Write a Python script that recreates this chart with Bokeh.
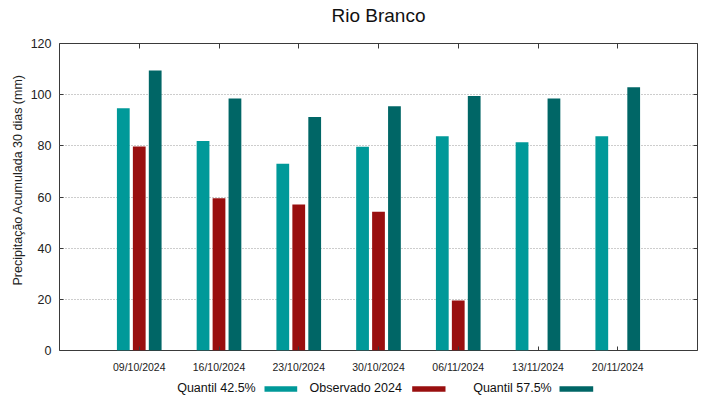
import math
from bokeh.plotting import figure
from bokeh.models import ColumnDataSource, Range1d, LinearAxis, FixedTicker
from bokeh.transform import dodge
from bokeh.layouts import column, row
from bokeh.core.properties import value
from bokeh.embed import file_html
from bokeh.resources import INLINE

NaN = float("nan")

dates = ["09/10/2024", "16/10/2024", "23/10/2024", "30/10/2024",
         "06/11/2024", "13/11/2024", "20/11/2024"]
quantil_425 = [94.7, 81.9, 73.0, 79.6, 83.7, 81.4, 83.7]
observado_2024 = [79.7, 59.5, 57.1, 54.2, 19.5, NaN, NaN]
quantil_575 = [109.4, 98.5, 91.3, 95.5, 99.5, 98.5, 102.9]
y_ticks = [0, 20, 40, 60, 80, 100, 120]

title_text = "Rio Branco"
y_title = "Precipitação Acumulada 30 dias (mm)"
series_names = ["Quantil 42.5%", "Observado 2024", "Quantil 57.5%"]
colors = ["#009999", "#990f0f", "#006666"]

FONT = "Liberation Sans"
W, H = 719, 399
TITLE_H, LEG_H, YLAB_W = 35, 23, 26
MAIN_H = H - TITLE_H - LEG_H


def blank_fig(w, h):
    f = figure(width=w, height=h, x_range=Range1d(0, w), y_range=Range1d(0, h),
               min_border=0, toolbar_location=None, output_backend="svg",
               x_axis_location=None, y_axis_location=None, outline_line_color=None,
               background_fill_color="white", border_fill_color="white")
    f.grid.visible = False
    return f


# ---------- title ----------
tfig = blank_fig(W, TITLE_H)
tfig.text(x=[378], y=[TITLE_H - 15], text=[title_text], text_font=value(FONT),
          text_font_size="19px", text_color="#111111", text_align="center",
          text_baseline="middle")

# ---------- y axis title ----------
yfig = blank_fig(YLAB_W, MAIN_H)
yfig.text(x=[17], y=[MAIN_H - (186.5 - TITLE_H)], text=[y_title], angle=math.pi / 2,
          text_font=value(FONT), text_font_size="12.5px", text_color="#222222",
          text_align="center", text_baseline="middle")

# ---------- main chart ----------
idx = list(range(len(dates)))
src = ColumnDataSource(dict(idx=idx, dates=dates, q425=quantil_425,
                            obs=observado_2024, q575=quantil_575))

p = figure(x_range=Range1d(-1, len(dates)), y_range=Range1d(0, 120),
           width=W - YLAB_W, height=MAIN_H, output_backend="svg", toolbar_location=None,
           min_border_left=33, min_border_right=22, min_border_top=8, min_border_bottom=26,
           background_fill_color="white", border_fill_color="white")

p.outline_line_color = "#3a3a3a"
p.outline_line_width = 1

p.xgrid.grid_line_color = None
p.ygrid.ticker = FixedTicker(ticks=y_ticks)
p.ygrid.grid_line_color = "#9a9a9a"
p.ygrid.grid_line_dash = "1 2"
p.ygrid.grid_line_width = 1

ya = p.yaxis[0]
ya.ticker = FixedTicker(ticks=y_ticks)
ya.axis_line_color = None
ya.major_tick_in = 4
ya.major_tick_out = 0
ya.minor_tick_line_color = None
ya.major_tick_line_color = "#3a3a3a"
ya.major_label_text_font = FONT
ya.major_label_text_font_size = "12.5px"
ya.major_label_text_color = "#222222"
ya.major_label_standoff = 8

xa = p.xaxis[0]
xa.ticker = FixedTicker(ticks=idx)
xa.major_label_overrides = {i: d for i, d in zip(idx, dates)}
xa.axis_line_color = None
xa.major_tick_in = 4
xa.major_tick_out = 0
xa.minor_tick_line_color = None
xa.major_tick_line_color = "#3a3a3a"
xa.major_label_text_font = FONT
xa.major_label_text_font_size = "10.5px"
xa.major_label_text_color = "#222222"
xa.major_label_standoff = 10

# mirrored tick marks (drawn as minor ticks so that no labels are produced)
ra = LinearAxis(ticker=FixedTicker(ticks=[], minor_ticks=y_ticks), axis_line_color=None,
                major_tick_line_color=None, minor_tick_in=4, minor_tick_out=0,
                minor_tick_line_color="#3a3a3a")
p.add_layout(ra, "right")
ta = LinearAxis(ticker=FixedTicker(ticks=[], minor_ticks=idx),
                axis_line_color=None, major_tick_line_color=None, minor_tick_in=5,
                minor_tick_out=0, minor_tick_line_color="#3a3a3a")
p.add_layout(ta, "above")

for key, off, col in zip(["q425", "obs", "q575"], [-0.2, 0.0, 0.2], colors):
    p.vbar(x=dodge("idx", off), top=key, width=0.16, bottom=0,
           source=src, fill_color=col, line_color=None)

# ---------- legend (text left of swatch) ----------
lfig = blank_fig(W, LEG_H)
leg_text_x = [176.7, 309, 472.7]
leg_sw_left = [264, 411.7, 559]
leg_sw_right = [296.7, 445, 592.7]
mid = LEG_H - (387.3 - (H - LEG_H))
lfig.text(x=leg_text_x, y=[mid] * 3, text=series_names, text_font=value(FONT),
          text_font_size="12.5px", text_color="#111111", text_align="left",
          text_baseline="middle")
lfig.quad(left=leg_sw_left, right=leg_sw_right,
          bottom=[LEG_H - (391.3 - (H - LEG_H))] * 3, top=[LEG_H - (385.7 - (H - LEG_H))] * 3,
          fill_color=colors, line_color=None)

layout = column(tfig, row(yfig, p), lfig)
open("out.html", "w").write(file_html(layout, INLINE))
